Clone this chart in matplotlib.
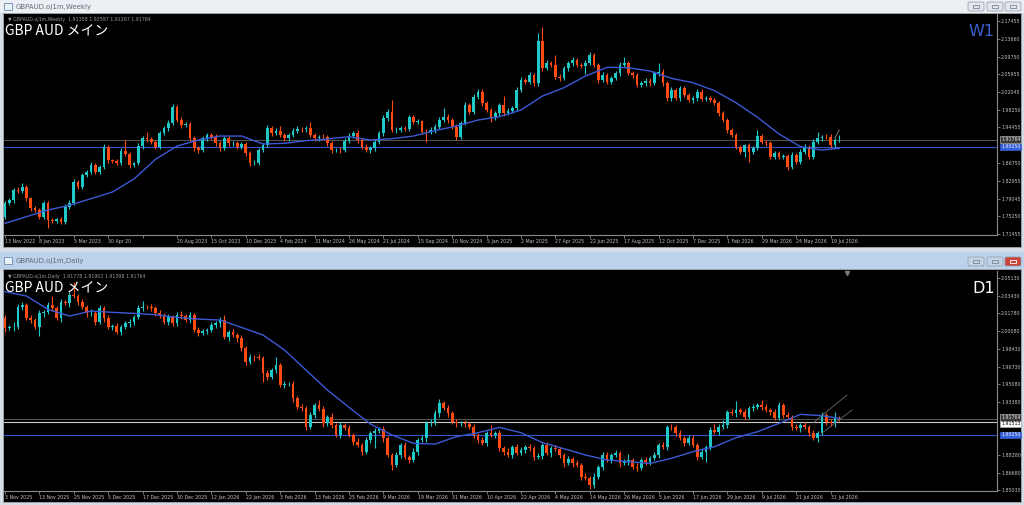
import matplotlib.pyplot as plt
import matplotlib.patches as mpatches
import matplotlib.transforms as mtransforms
import numpy as np

W, H = 1024, 505
UP = '#20c8c8'
DOWN = '#ff4a12'
MA_COL = '#3c5ad6'

# ---------------- weekly (W1) ----------------
w_open0 = 1.7519
w_close = [
    1.7807, 1.7879, 1.8095, 1.8081, 1.8167, 1.7915, 1.7699, 1.7663, 1.7519, 1.7807,
    1.7447, 1.7433, 1.7461, 1.7411, 1.7735, 1.7821, 1.8275, 1.8167, 1.8419, 1.8491,
    1.8635, 1.8491, 1.8599, 1.9017, 1.8743, 1.8729, 1.8685, 1.8945, 1.8873, 1.8635,
    1.8671, 1.9045, 1.9211, 1.9189, 1.9139, 1.9031, 1.9319, 1.9427, 1.9535, 1.9881,
    1.9607, 1.9499, 1.9521, 1.9211, 1.8995, 1.8959, 1.9211, 1.9283, 1.9247, 1.9103,
    1.8995, 1.9211, 1.9103, 1.9110, 1.9031, 1.9089, 1.8887, 1.8671, 1.8685, 1.8959,
    1.9067, 1.9427, 1.9319, 1.9377, 1.9283, 1.9211, 1.9283, 1.9377, 1.9420, 1.9405,
    1.9427, 1.9283, 1.9211, 1.9247, 1.9240, 1.9103, 1.8959, 1.8966, 1.8952, 1.9161,
    1.9269, 1.9319, 1.9175, 1.9031, 1.8959, 1.8995, 1.9139, 1.9319, 1.9643, 1.9787,
    1.9391, 1.9398, 1.9427, 1.9420, 1.9665, 1.9571, 1.9578, 1.9355, 1.9348, 1.9391,
    1.9463, 1.9607, 1.9679, 1.9607, 1.9463, 1.9247, 1.9535, 1.9931, 1.9787, 2.0111,
    2.0219, 1.9967, 1.9823, 1.9643, 1.9751, 1.9931, 1.9751, 1.9809, 1.9859, 2.0255,
    2.0471, 2.0435, 2.0579, 2.0399, 2.1321, 2.0723, 2.0831, 2.0795, 2.0543, 2.0507,
    2.0723, 2.0831, 2.0903, 2.0795, 2.0781, 2.0845, 2.1011, 2.0795, 2.0471, 2.0579,
    2.0435, 2.0507, 2.0615, 2.0795, 2.0831, 2.0615, 2.0579, 2.0363, 2.0399, 2.0457,
    2.0399, 2.0615, 2.0651, 2.0399, 2.0075, 2.0255, 2.0075, 2.0291, 2.0147, 2.0039,
    2.0075, 2.0219, 2.0068, 2.0082, 2.0039, 1.9967, 1.9751, 1.9607, 1.9391, 1.9283,
    1.9031, 1.8923, 1.9067, 1.8923, 1.8995, 1.9261, 1.9139, 1.9103, 1.8815, 1.8887,
    1.8815, 1.8822, 1.8599, 1.8851, 1.8707, 1.8923, 1.9031, 1.8815, 1.9139, 1.9211,
    1.9247, 1.9240, 1.9067, 1.9175, 1.9176]
# wick lengths above / below the body, in 0.001
w_hi = [
    6, 4, 5, 7, 7, 4, 3, 5, 4, 6,
    5, 4, 3, 5, 6, 5, 6, 4, 5, 4,
    6, 5, 4, 7, 4, 3, 4, 6, 23, 4,
    3, 6, 5, 13, 5, 4, 6, 5, 8, 7,
    5, 6, 5, 4, 4, 5, 6, 5, 4, 6,
    4, 5, 6, 4, 5, 4, 5, 4, 6, 5,
    5, 7, 4, 5, 10, 5, 4, 6, 5, 4,
    5, 14, 5, 4, 5, 4, 5, 4, 5, 6,
    5, 6, 7, 4, 5, 4, 6, 5, 7, 6,
    25, 5, 4, 5, 6, 4, 5, 4, 5, 6,
    5, 6, 18, 5, 4, 5, 6, 7, 5, 6,
    5, 6, 4, 5, 6, 5, 19, 5, 6, 7,
    6, 5, 6, 4, 16, 30, 7, 5, 22, 5,
    6, 5, 6, 5, 5, 5, 7, 5, 4, 6,
    5, 6, 5, 6, 14, 5, 4, 5, 6, 5,
    5, 6, 18, 5, 4, 6, 5, 6, 5, 4,
    5, 6, 5, 4, 5, 4, 5, 4, 5, 4,
    5, 4, 3, 5, 6, 13, 5, 4, 5, 6,
    4, 5, 4, 6, 5, 5, 6, 4, 5, 14,
    4, 5, 6, 5, 11]
w_lo = [
    5, 4, 6, 4, 5, 6, 5, 4, 6, 5,
    18, 5, 4, 6, 5, 4, 5, 6, 4, 5,
    4, 6, 5, 4, 7, 5, 4, 5, 4, 6,
    5, 4, 6, 5, 4, 6, 5, 4, 5, 4,
    5, 6, 4, 5, 6, 7, 4, 5, 6, 5,
    6, 4, 5, 6, 4, 5, 6, 5, 4, 5,
    4, 5, 6, 4, 5, 6, 5, 4, 6, 5,
    5, 4, 6, 5, 4, 6, 7, 5, 6, 4,
    5, 4, 6, 5, 4, 6, 5, 4, 6, 5,
    4, 6, 5, 4, 5, 6, 4, 5, 22, 4,
    6, 5, 4, 6, 5, 7, 5, 4, 6, 5,
    4, 6, 5, 7, 4, 5, 6, 4, 5, 6,
    5, 4, 6, 5, 5, 6, 4, 5, 6, 5,
    4, 6, 5, 4, 6, 17, 5, 4, 6, 5,
    6, 5, 4, 6, 5, 4, 6, 5, 4, 6,
    5, 4, 6, 5, 6, 5, 4, 6, 5, 4,
    6, 5, 4, 6, 5, 4, 6, 5, 7, 5,
    6, 5, 11, 22, 5, 4, 6, 5, 6, 5,
    4, 6, 7, 5, 4, 6, 5, 4, 5, 4,
    5, 4, 6, 5, 4]
# moving average, read every 5th bar plus the last one
w_ma = [1.7375, 1.7519, 1.7663, 1.7764, 1.7908, 1.8052, 1.8333, 1.8757, 1.9045, 1.9175,
        1.9261, 1.9261, 1.9089, 1.9103, 1.9161, 1.9197, 1.9247, 1.9175, 1.9204, 1.9261,
        1.9377, 1.9477, 1.9607, 1.9679, 1.9823, 2.0125, 2.0305, 2.0557, 2.0745, 2.0737,
        2.0665, 2.0507, 2.0413, 2.0241, 1.9981, 1.9665, 1.9305, 1.9031, 1.8959, 1.8995]
w_dates = ['13 Nov 2022', '8 Jan 2023', '5 Mar 2023', '30 Apr 20', '', '20 Aug 2023',
           '15 Oct 2023', '10 Dec 2023', '4 Feb 2024', '31 Mar 2024', '26 May 2024',
           '21 Jul 2024', '15 Sep 2024', '10 Nov 2024', '5 Jan 2025', '2 Mar 2025',
           '27 Apr 2025', '22 Jun 2025', '17 Aug 2025', '12 Oct 2025', '7 Dec 2025',
           '1 Feb 2026', '29 Mar 2026', '24 May 2026', '19 Jul 2026']
w_yticks = [2.17455, 2.13660, 2.09750, 2.05955, 2.02045, 1.98250, 1.94455,
            1.86750, 1.82955, 1.79045, 1.75250, 1.71455]
w_trend = [(193.0, 1.9218), (194.0, 1.9391)]

# ---------------- daily (D1) ----------------
d_open0 = 2.0131
d_close = [
    2.0036, 2.0045, 2.0052, 2.0241, 2.0257, 2.0131, 2.0115, 2.0052, 2.0178, 2.0194,
    2.0257, 2.0226, 2.0131, 2.0289, 2.0273, 2.0352, 2.0343, 2.0289, 2.0241, 2.0178,
    2.0185, 2.0099, 2.0226, 2.0131, 2.0052, 2.0058, 2.0004, 2.0052, 2.0083, 2.0099,
    2.0147, 2.0226, 2.0241, 2.0235, 2.0226, 2.0178, 2.0162, 2.0099, 2.0147, 2.0083,
    2.0162, 2.0153, 2.0115, 2.0162, 2.0020, 1.9989, 2.0014, 2.0020, 2.0068, 2.0083,
    2.0115, 1.9957, 2.0004, 1.9973, 1.9941, 1.9846, 1.9720, 1.9767, 1.9761, 1.9752,
    1.9609, 1.9578, 1.9641, 1.9688, 1.9499, 1.9505, 1.9508, 1.9372, 1.9293, 1.9278,
    1.9104, 1.9214, 1.9309, 1.9268, 1.9135, 1.9199, 1.9120, 1.9025, 1.9120, 1.9088,
    1.9025, 1.8962, 1.8930, 1.8867, 1.8977, 1.9041, 1.9066, 1.9085, 1.8993, 1.8835,
    1.8740, 1.8835, 1.8930, 1.8819, 1.8788, 1.8867, 1.8977, 1.8993, 1.9135, 1.9142,
    1.9230, 1.9325, 1.9278, 1.9230, 1.9151, 1.9135, 1.9140, 1.9129, 1.9104, 1.9025,
    1.8977, 1.8946, 1.9041, 1.9025, 1.9047, 1.8898, 1.8867, 1.8835, 1.8914, 1.8851,
    1.8883, 1.8914, 1.8898, 1.8819, 1.8826, 1.8930, 1.8851, 1.8898, 1.8892, 1.8835,
    1.8756, 1.8794, 1.8756, 1.8740, 1.8630, 1.8614, 1.8551, 1.8630, 1.8725, 1.8835,
    1.8788, 1.8835, 1.8851, 1.8756, 1.8772, 1.8788, 1.8725, 1.8709, 1.8788, 1.8772,
    1.8804, 1.8835, 1.8930, 1.8914, 1.9104, 1.9097, 1.9041, 1.8993, 1.8946, 1.8993,
    1.8930, 1.8819, 1.8867, 1.8914, 1.9072, 1.9056, 1.9104, 1.9120, 1.9246, 1.9230,
    1.9262, 1.9246, 1.9199, 1.9278, 1.9293, 1.9309, 1.9293, 1.9262, 1.9246, 1.9183,
    1.9309, 1.9214, 1.9199, 1.9104, 1.9088, 1.9120, 1.9104, 1.9041, 1.8993, 1.9041,
    1.9214, 1.9151, 1.9135, 1.9183, 1.9176]
d_hi = [
    3, 2, 4, 3, 3, 2, 3, 2, 3, 2,
    3, 9, 2, 3, 2, 3, 12, 2, 3, 2,
    3, 2, 3, 2, 3, 2, 3, 2, 2, 3,
    2, 3, 5, 2, 3, 2, 3, 2, 3, 2,
    3, 4, 2, 3, 2, 3, 2, 2, 3, 2,
    3, 5, 2, 3, 2, 3, 2, 3, 2, 3,
    2, 3, 2, 8, 2, 3, 2, 3, 2, 3,
    2, 3, 2, 5, 3, 2, 3, 2, 3, 2,
    3, 2, 3, 2, 3, 2, 3, 2, 3, 2,
    2, 3, 2, 3, 2, 3, 2, 3, 2, 3,
    3, 4, 2, 3, 2, 3, 2, 3, 2, 3,
    2, 3, 2, 8, 2, 3, 2, 3, 2, 3,
    3, 2, 3, 2, 3, 2, 3, 2, 3, 2,
    2, 3, 2, 3, 2, 3, 2, 3, 2, 3,
    3, 2, 3, 2, 3, 6, 2, 3, 2, 3,
    2, 3, 2, 3, 2, 3, 2, 3, 2, 3,
    3, 2, 3, 2, 3, 6, 3, 5, 2, 3,
    9, 2, 3, 2, 3, 2, 5, 3, 2, 3,
    3, 2, 3, 2, 3, 2, 3, 2, 3, 2,
    3, 2, 3, 6, 2]
d_lo = [
    3, 2, 3, 2, 3, 2, 3, 2, 9, 3,
    2, 3, 2, 3, 2, 3, 2, 3, 2, 3,
    2, 3, 2, 3, 2, 3, 2, 3, 2, 3,
    3, 2, 3, 2, 3, 2, 3, 2, 3, 2,
    2, 3, 2, 3, 2, 3, 2, 3, 2, 3,
    3, 2, 4, 2, 3, 2, 3, 2, 3, 2,
    8, 3, 2, 3, 2, 3, 2, 3, 2, 3,
    3, 2, 3, 2, 3, 2, 3, 2, 3, 2,
    2, 3, 2, 3, 2, 3, 14, 2, 3, 2,
    5, 2, 3, 2, 3, 2, 3, 2, 3, 2,
    2, 3, 2, 3, 2, 3, 2, 3, 2, 3,
    3, 2, 3, 2, 3, 2, 3, 2, 3, 2,
    2, 3, 2, 3, 2, 3, 2, 3, 2, 3,
    3, 2, 3, 2, 3, 2, 4, 3, 2, 3,
    2, 3, 2, 3, 2, 3, 2, 3, 2, 3,
    3, 2, 3, 2, 3, 2, 3, 2, 3, 2,
    2, 3, 2, 10, 3, 2, 3, 2, 3, 2,
    3, 2, 3, 2, 3, 2, 3, 2, 3, 2,
    2, 3, 2, 3, 2, 3, 2, 3, 2, 3,
    2, 3, 2, 3, 2]
d_ma = [2.0384, 2.0343, 2.0216, 2.0153, 2.0200, 2.0188, 2.0178, 2.0166, 2.0140, 2.0124,
        2.0115, 2.0045, 1.9973, 1.9831, 1.9641, 1.9451, 1.9287, 1.9129, 1.9025, 1.8946,
        1.8939, 1.9009, 1.9047, 1.9097, 1.9047, 1.8952, 1.8895, 1.8835, 1.8788, 1.8772,
        1.8756, 1.8804, 1.8867, 1.8914, 1.8999, 1.9056, 1.9135, 1.9221, 1.9208, 1.9183]
d_dates = ['3 Nov 2025', '13 Nov 2025', '25 Nov 2025', '5 Dec 2025', '17 Dec 2025',
           '30 Dec 2025', '12 Jan 2026', '22 Jan 2026', '3 Feb 2026', '13 Feb 2026',
           '25 Feb 2026', '9 Mar 2026', '19 Mar 2026', '31 Mar 2026', '10 Apr 2026',
           '22 Apr 2026', '4 May 2026', '14 May 2026', '26 May 2026', '5 Jun 2026',
           '17 Jun 2026', '29 Jun 2026', '9 Jul 2026', '21 Jul 2026', '31 Jul 2026']
d_yticks = [2.05130, 2.03430, 2.01780, 2.00080, 1.98430, 1.96730, 1.95080, 1.93380,
            1.88380, 1.86680, 1.85030]
d_trend1 = [(187.9, 1.9139), (195.8, 1.9404)]
d_trend2 = [(190.0, 1.9044), (197.0, 1.9262)]

bid = 1.91764
level = 1.90250
d_level2 = 1.91513


def rect(x, y, w, h):
    return [x / W, 1 - (y + h) / H, w / W, h / H]


def draw_candles(ax, open0, close, hi_w, lo_w, min_h):
    close = np.array(close)
    opens = np.concatenate([[open0], close[:-1]])
    highs = np.maximum(opens, close) + np.array(hi_w) / 1000
    lows = np.minimum(opens, close) - np.array(lo_w) / 1000
    x = np.arange(len(close))
    cols = np.where(close >= opens, UP, DOWN)
    ax.vlines(x, lows, highs, colors=cols, lw=0.8, zorder=3)
    ax.bar(x, np.maximum(np.abs(close - opens), min_h), bottom=np.minimum(opens, close),
           width=0.62, color=cols, lw=0, zorder=4)
    ma_x = np.r_[np.arange(0, len(close) - 1, 5), len(close) - 1]
    return ma_x


def style_axes(ax, ylim, yticks, dates):
    ax.set_facecolor('black')
    ax.set_xlim(-0.23, 230.7)
    ax.set_ylim(*ylim)
    for s in ['top', 'left']:
        ax.spines[s].set_visible(False)
    for s in ['right', 'bottom']:
        ax.spines[s].set_color('#8a8a8a')
        ax.spines[s].set_linewidth(0.8)
    ax.yaxis.tick_right()
    ax.set_yticks(yticks)
    ax.set_yticklabels(['%.5f' % v for v in yticks])
    ax.set_xticks(np.arange(len(dates)) * 8)
    ax.set_xticklabels(dates)
    for lbl in ax.get_xticklabels():
        lbl.set_horizontalalignment('left')
    ax.tick_params(axis='both', colors='#8a8a8a', labelcolor='#c0c0c0', labelsize=3.4,
                   length=2, width=0.6, pad=1)


def price_box(ax, y, txt, fc, tc, ec, dy=0.0):
    tr = mtransforms.blended_transform_factory(ax.transAxes, ax.transData)
    ax.text(1.004, y + dy, txt, transform=tr, ha='left', va='center', fontsize=3.4, color=tc,
            bbox=dict(boxstyle='square,pad=0.2', fc=fc, ec=ec, lw=0.5), zorder=10,
            clip_on=False)


fig = plt.figure(figsize=(W / 100, H / 100), dpi=100)
fig.patch.set_facecolor('#d6dce3')

# window chrome
chrome = fig.add_axes([0, 0, 1, 1])
chrome.set_xlim(0, W)
chrome.set_ylim(H, 0)
chrome.axis('off')
chrome.add_patch(mpatches.Rectangle((0, 0), W, 13, fc='#eceff3', ec='none'))
chrome.add_patch(mpatches.Rectangle((0, 252), W, 17, fc='#bcd2ea', ec='none'))
chrome.add_patch(mpatches.Rectangle((3, 13), 1018, 234, fc='black', ec='#a0a8b0', lw=0.6))
chrome.add_patch(mpatches.Rectangle((3, 269), 1018, 233, fc='black', ec='#a0a8b0', lw=0.6))
for ytop, name in [(2, 'GBPAUD.oj1m,Weekly'), (256, 'GBPAUD.oj1m,Daily')]:
    chrome.add_patch(mpatches.Rectangle((4, ytop + 1), 8, 7, fc='#e8f0f8', ec='#6a8ab0', lw=0.6))
    chrome.text(16, ytop + 4.5, name, fontsize=5, color='#606a74', va='center', ha='left')
for ytop, active in [(2, False), (257, True)]:
    for i, bx in enumerate([968, 987, 1005]):
        fc = '#c9443a' if (active and i == 2) else ('#c3d3e6' if active else '#e2e6ea')
        chrome.add_patch(mpatches.FancyBboxPatch((bx, ytop), 16, 9, boxstyle='round,pad=0,rounding_size=1.5',
                                                 fc=fc, ec='#8c9aa8', lw=0.5))
        chrome.add_patch(mpatches.Rectangle((bx + 5, ytop + 3), 6, 3, fc='none',
                                            ec='white' if (active and i == 2) else '#7a8694', lw=0.6))

# weekly chart
axw = fig.add_axes(rect(4, 14, 993, 221))
style_axes(axw, (1.7123, 2.1897), w_yticks, w_dates)
mxw = draw_candles(axw, w_open0, w_close, w_hi, w_lo, 0.0008)
axw.plot(mxw, w_ma, color=MA_COL, lw=1.0, zorder=5)
axw.axhline(bid, color='#555555', lw=0.7, zorder=2)
axw.axhline(level, color='#3355cc', lw=0.8, zorder=2)
axw.plot([p[0] for p in w_trend], [p[1] for p in w_trend], color='#8a8a8a', lw=0.6, zorder=6)
price_box(axw, bid, '1.91764', '#3a3a3a', '#e0e0e0', '#b0b0b0')
price_box(axw, level, '1.90250', '#3660d8', '#e8eeff', '#3660d8')

# daily chart
axd = fig.add_axes(rect(4, 271, 993, 220))
style_axes(axd, (1.8494, 2.0580), d_yticks, d_dates)
mxd = draw_candles(axd, d_open0, d_close, d_hi, d_lo, 0.0003)
axd.plot(mxd, d_ma, color=MA_COL, lw=1.0, zorder=5)
axd.axhline(bid, color='#555555', lw=0.7, zorder=2)
axd.axhline(d_level2, color='#c8c8c8', lw=0.8, zorder=2)
axd.axhline(level, color='#3355cc', lw=0.8, zorder=2)
for tl in [d_trend1, d_trend2]:
    axd.plot([p[0] for p in tl], [p[1] for p in tl], color='#6a6a6a', lw=0.6, zorder=6)
price_box(axd, bid, '1.91764', '#3a3a3a', '#e0e0e0', '#b0b0b0', dy=0.0012)
price_box(axd, d_level2, '1.91513', 'white', 'black', '#b0b0b0', dy=-0.0022)
price_box(axd, level, '1.90250', '#3660d8', '#e8eeff', '#3660d8')

# chart shift marker
tr = mtransforms.blended_transform_factory(axd.transData, axd.transAxes)
axd.plot([195.8], [0.99], marker='v', ms=3, color='#7a7a7a', transform=tr, clip_on=False)

# overlay texts
jp = ['Noto Sans CJK JP', 'DejaVu Sans']
for ax, info, tf, tcol in [
        (axw, '\u25bc GBPAUD.oj1m,Weekly  1.91358 1.92597 1.91267 1.91764', 'W1', '#3c5fd0'),
        (axd, '\u25bc GBPAUD.oj1m,Daily  1.91778 1.91902 1.91398 1.91764', 'D1', 'white')]:
    ax.text(0.004, 0.985, info, transform=ax.transAxes, fontsize=3.4, color='#9a9a9a',
            va='top', ha='left', zorder=11)
    ax.text(0.001, 0.955, 'GBP AUD メイン', transform=ax.transAxes, fontsize=10,
            color='white', va='top', ha='left', family=jp, zorder=11)
    ax.text(0.998, 0.955, tf, transform=ax.transAxes, fontsize=11.5, color=tcol,
            va='top', ha='right', zorder=11)

fig.savefig('out.png', dpi=100, facecolor=fig.get_facecolor())
